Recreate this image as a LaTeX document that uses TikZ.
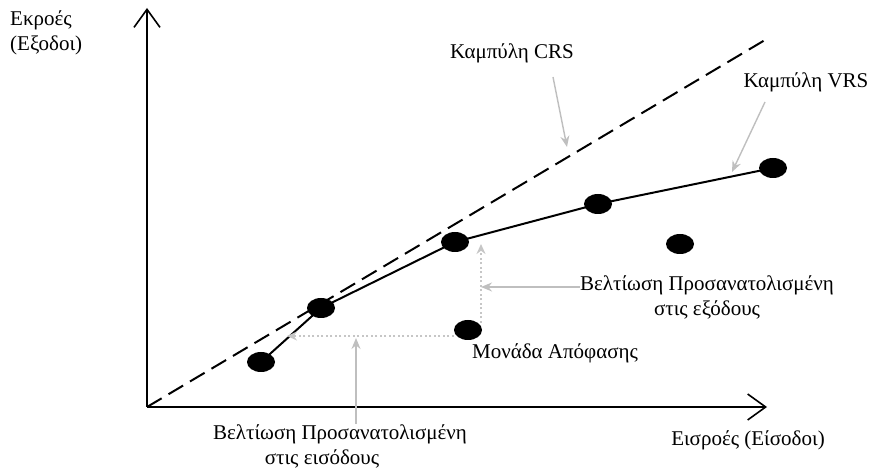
\documentclass[tikz,border=0pt]{standalone}
\usepackage{fontspec}
\setmainfont{Liberation Serif}
\usetikzlibrary{shapes,arrows.meta}

\begin{document}
\begin{tikzpicture}[x=1pt,y=-1pt,
  dot/.style={ellipse,fill=black,minimum width=28pt,minimum height=20pt,inner sep=0pt},
  lbl/.style={font=\fontsize{21}{25}\selectfont,inner sep=0pt},
  hint/.style={draw=gray!50,line width=1.4pt,-{Stealth[length=11pt,width=9pt]}},
  path/.style={draw=gray!45,line width=2.2pt,dash pattern=on 2pt off 2.5pt,-{Stealth[length=10pt,width=9pt]}},
  axis/.style={line width=1.6pt,-{Straight Barb[length=18pt,width=26pt]}}]
\useasboundingbox (0,0) rectangle (871,470);
% axes
\coordinate (O) at (147,407);
\coordinate (ytop) at (147,8);
\coordinate (xend) at (767,407);
\draw [axis] (O) -- (ytop);
\draw [axis] (O) -- (xend);
% CRS frontier
\coordinate (crs) at (765,40);
\draw [line width=2pt, dash pattern=on 17pt off 8pt] (O) -- (crs);
% units
\node [dot] (u1) at (261,362) {};
\node [dot] (u2) at (321,308) {};
\node [dot] (u3) at (455,242) {};
\node [dot] (u4) at (598,204) {};
\node [dot] (u5) at (773,168) {};
\node [dot] (u6) at (680,244) {};
\node [dot] (dmu) at (468,330) {};
% VRS frontier
\draw [line width=2pt] (u1.center) -- (u2.center) -- (u3.center) -- (u4.center) -- (u5.center);
% projections of the unit
\coordinate (inproj) at (287,336);
\coordinate (outproj) at (481,244);
\draw [path] (dmu.west |- inproj) -- (inproj);
\draw [path] (dmu.north east -| outproj) -- (outproj);
% labels
\node [lbl, anchor=west, align=left] (yname) at (10,33) {Εκροές\\(Εξοδοι)};
\node [lbl] (xname) at (748,440) {Εισροές (Είσοδοι)};
\node [lbl] (crsname) at (512,53) {Καμπύλη CRS};
\node [lbl] (vrsname) at (806,82) {Καμπύλη VRS};
\node [lbl] (dmuname) at (555,353) {Μονάδα Απόφασης};
\node [lbl, align=center] (outname) at (707,297) {Βελτίωση Προσανατολισμένη\\στις εξόδους};
\node [lbl, align=center] (inname) at (340,446) {Βελτίωση Προσανατολισμένη\\στις εισόδους\hspace*{36pt}};
% pointers
\coordinate (crstip) at (567,147);
\coordinate (vrstip) at (732,172);
\draw [hint] (553,77) -- (crstip);
\draw [hint] (765,102) -- (vrstip);
\draw [hint] (outname.west |- 0,287) -- (outproj |- 0,287);
\draw [hint] (356,424) -- (356,338);
\end{tikzpicture}
\end{document}
